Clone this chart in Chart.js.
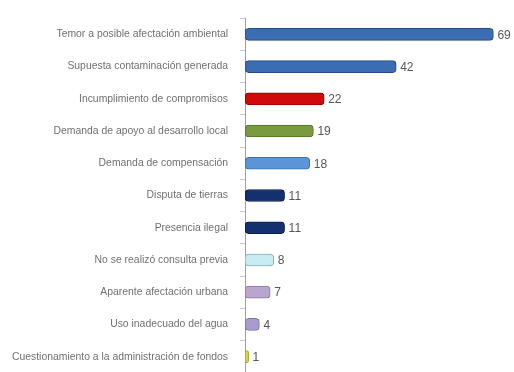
<!DOCTYPE html>
<html>
<head>
<meta charset="utf-8">
<script src="https://cdn.jsdelivr.net/npm/chart.js@4.4.1/dist/chart.umd.min.js"></script>
<style>
  html, body { margin: 0; padding: 0; background: #fff; overflow: hidden; }
  canvas { display: block; }
</style>
</head>
<body>
<canvas id="chart" width="514" height="391"></canvas>
<script>
// categorías y valores
const categories = [
  "Temor a posible afectación ambiental",
  "Supuesta contaminación generada",
  "Incumplimiento de compromisos",
  "Demanda de apoyo al desarrollo local",
  "Demanda de compensación",
  "Disputa de tierras",
  "Presencia ilegal",
  "No se realizó consulta previa",
  "Aparente afectación urbana",
  "Uso inadecuado del agua",
  "Cuestionamiento a la administración de fondos"
];
const values = [69, 42, 22, 19, 18, 11, 11, 8, 7, 4, 1];
const barColors = ["#3b6db3", "#3b6db3", "#d00a0a", "#7a9a3e", "#5b95d8", "#14306e", "#14306e", "#c9ecf3", "#b9a6cf", "#a99ccd", "#d9d43a"];
const borderColors = ["#234a85", "#234a85", "#8e0000", "#566f29", "#3d6fae", "#0a1c48", "#0a1c48", "#7fb3c2", "#8a76a3", "#7f72a6", "#a6a220"];

// dibuja el valor al final de cada barra
const valueLabels = {
  id: 'valueLabels',
  afterDatasetsDraw(chart) {
    const ctx = chart.ctx;
    const meta = chart.getDatasetMeta(0);
    ctx.save();
    ctx.font = '12px "Liberation Sans", Arial, sans-serif';
    ctx.fillStyle = '#555';
    ctx.textBaseline = 'middle';
    ctx.textAlign = 'left';
    meta.data.forEach((bar, i) => {
      ctx.fillText(values[i], bar.x + 4, bar.y + 1);
    });
    ctx.restore();
  }
};

new Chart(document.getElementById('chart'), {
  type: 'bar',
  data: {
    labels: categories,
    datasets: [{
      data: values,
      backgroundColor: barColors,
      borderColor: borderColors,
      borderWidth: 1,
      borderRadius: 4,
      borderSkipped: false,
      barThickness: 12
    }]
  },
  options: {
    indexAxis: 'y',
    responsive: false,
    animation: false,
    layout: { autoPadding: false, padding: { top: 17, right: 17, bottom: 0, left: 0 } },
    plugins: {
      legend: { display: false },
      tooltip: { enabled: false }
    },
    scales: {
      x: {
        display: false,
        min: 0,
        max: 70
      },
      y: {
        afterFit(scale) { scale.width = 245; },
        grid: {
          drawOnChartArea: false,
          drawTicks: true,
          tickLength: 5,
          color: '#c8c8c8'
        },
        border: { color: '#a0a0a0' },
        ticks: {
          color: '#707070',
          padding: 12,
          font: { family: '"Liberation Sans", Arial, sans-serif', size: 10.4 }
        }
      }
    }
  },
  plugins: [valueLabels]
});
</script>
</body>
</html>
